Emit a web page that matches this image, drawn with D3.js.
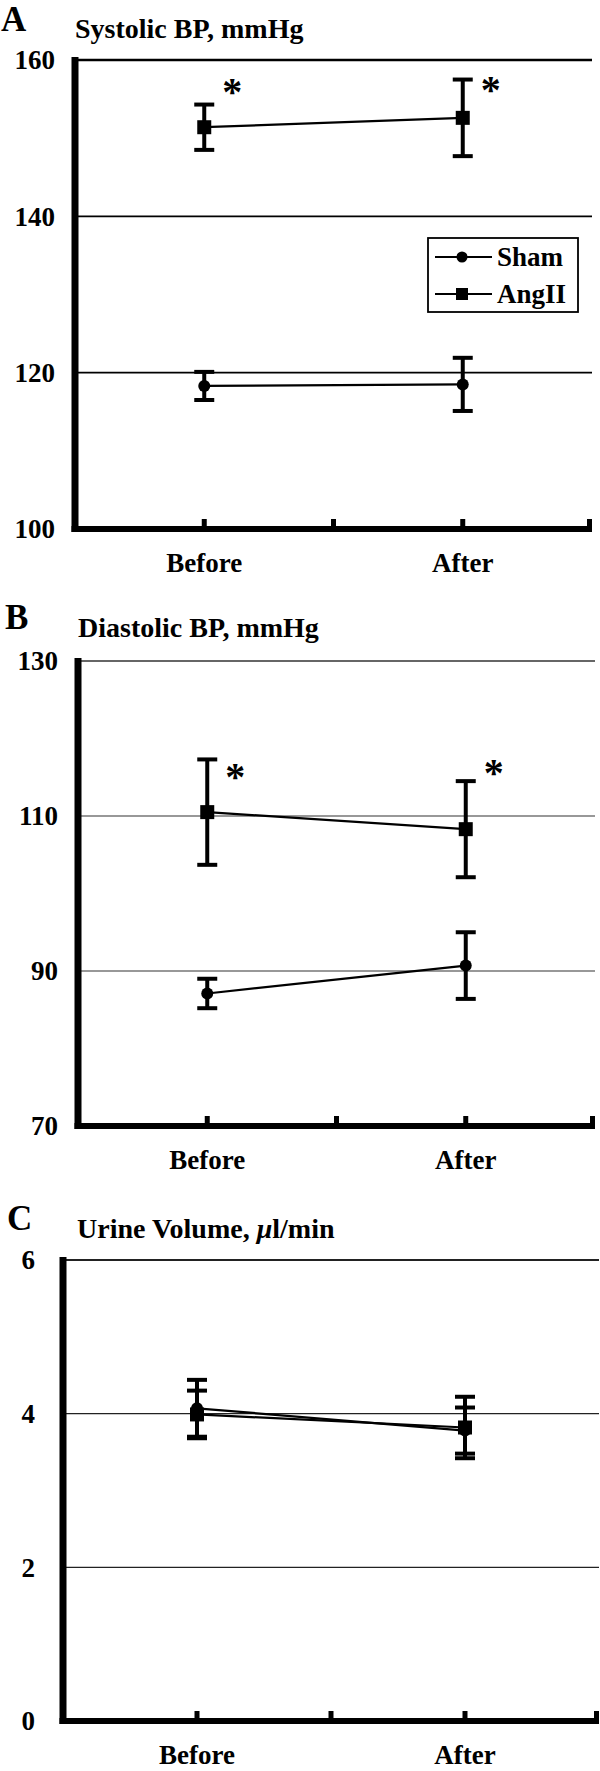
<!DOCTYPE html>
<html><head><meta charset="utf-8">
<script src="https://cdn.jsdelivr.net/npm/d3@7"></script>
<style>
html,body{margin:0;padding:0;background:#fff;}
svg{display:block;}
text{font-family:"Liberation Serif","Times New Roman",serif;font-weight:bold;fill:#000;}
</style></head>
<body>
<svg id="chart" width="600" height="1771"></svg>
<script>
// ---------- data ----------
const categories = ["Before", "After"];
const seriesNames = ["Sham", "AngII"];

// Panel A: systolic BP, mmHg
const sbpTicks = [100, 120, 140, 160];
const sbpSham = [118.3, 118.5];
const sbpShamErr = [1.8, 3.4];
const sbpAng = [151.4, 152.6];
const sbpAngErr = [2.9, 4.9];
const sbpStars = [156.8, 157.1];

// Panel B: diastolic BP, mmHg
const dbpTicks = [70, 90, 110, 130];
const dbpSham = [87.1, 90.7];
const dbpShamErr = [1.9, 4.3];
const dbpAng = [110.5, 108.3];
const dbpAngErr = [6.8, 6.2];
const dbpStars = [115.9, 116.4];

// Panel C: urine volume, µl/min
const uvTicks = [0, 2, 4, 6];
const uvSham = [4.07, 3.78];
const uvShamErr = [0.37, 0.30];
const uvAng = [3.99, 3.82];
const uvAngErr = [0.31, 0.40];

// ---------- drawing ----------
const svg = d3.select("#chart");

function panel(cfg) {
  const g = svg.append("g");
  const x = d3.scaleLinear().domain([0, 4]).range(cfg.xr);
  const y = d3.scaleLinear().domain(d3.extent(cfg.ticks)).range(cfg.yr);
  const catX = i => x(1 + 2 * i);

  // panel letter and title
  g.append("text").attr("x", cfg.letterPos[0]).attr("y", cfg.letterPos[1])
    .style("font-size", "35px").text(cfg.letter);
  g.append("text").attr("x", cfg.titlePos[0]).attr("y", cfg.titlePos[1])
    .style("font-size", "28px").html(cfg.title);

  // gridlines
  const top = d3.max(cfg.ticks);
  g.selectAll(".grid").data(cfg.ticks.filter(t => t !== d3.min(cfg.ticks)))
    .join("line")
    .attr("x1", x(0)).attr("x2", x(4))
    .attr("y1", d => y(d)).attr("y2", d => y(d))
    .attr("stroke", cfg.gridColor)
    .attr("stroke-width", d => d === top ? cfg.gridW + 0.5 : cfg.gridW);

  // y axis (thick)
  g.append("line").attr("x1", x(0)).attr("x2", x(0))
    .attr("y1", y(top) - 3).attr("y2", y(d3.min(cfg.ticks)) + 3)
    .attr("stroke", "#000").attr("stroke-width", 7);
  // x axis (thick)
  g.append("line").attr("x1", x(0) - 3.5).attr("x2", x(4))
    .attr("y1", y(d3.min(cfg.ticks))).attr("y2", y(d3.min(cfg.ticks)))
    .attr("stroke", "#000").attr("stroke-width", 6);
  // x axis tick marks pointing up
  g.selectAll(".xt").data([1, 2, 3, 4]).join("line")
    .attr("x1", d => x(d) - (d === 4 ? 2.5 : 0)).attr("x2", d => x(d) - (d === 4 ? 2.5 : 0))
    .attr("y1", y(d3.min(cfg.ticks))).attr("y2", y(d3.min(cfg.ticks)) - 10)
    .attr("stroke", "#000").attr("stroke-width", 5);

  // y tick labels
  g.selectAll(".yl").data(cfg.ticks).join("text")
    .attr("x", cfg.labelX).attr("y", d => y(d))
    .attr("dy", "0.35em").attr("text-anchor", "end")
    .style("font-size", "27px").text(d => d);

  // category labels
  g.selectAll(".cl").data(categories).join("text")
    .attr("x", (d, i) => catX(i)).attr("y", y(d3.min(cfg.ticks)) + 43)
    .attr("text-anchor", "middle").style("font-size", "27px").text(d => d);

  // series
  cfg.series.forEach(s => {
    const pts = s.values.map((v, i) => ({ x: catX(i), v, e: s.err[i] }));
    g.append("path").datum(pts)
      .attr("d", d3.line().x(d => d.x).y(d => y(d.v)))
      .attr("fill", "none").attr("stroke", "#000").attr("stroke-width", 2.2);
    const eb = g.append("g").selectAll("g").data(pts).join("g");
    eb.append("line").attr("x1", d => d.x).attr("x2", d => d.x)
      .attr("y1", d => y(d.v + d.e)).attr("y2", d => y(d.v - d.e))
      .attr("stroke", "#000").attr("stroke-width", 4);
    [1, -1].forEach(sg => {
      eb.append("line").attr("x1", d => d.x - 10).attr("x2", d => d.x + 10)
        .attr("y1", d => y(d.v + sg * d.e)).attr("y2", d => y(d.v + sg * d.e))
        .attr("stroke", "#000").attr("stroke-width", 4);
    });
    if (s.name === "Sham") {
      eb.append("circle").attr("cx", d => d.x).attr("cy", d => y(d.v)).attr("r", 6).attr("fill", "#000");
    } else {
      eb.append("rect").attr("x", d => d.x - 7).attr("y", d => y(d.v) - 7)
        .attr("width", 14).attr("height", 14).attr("fill", "#000");
    }
  });

  // significance asterisks
  if (cfg.stars) {
    g.selectAll(".st").data(cfg.stars).join("text")
      .attr("x", (d, i) => catX(i) + 28).attr("y", d => y(d))
      .attr("dy", "0.5em").attr("text-anchor", "middle")
      .style("font-size", "40px").text("*");
  }
  return { g, x, y };
}

const A = panel({
  letter: "A", letterPos: [1, 31], title: "Systolic BP, mmHg", titlePos: [75, 38],
  ticks: sbpTicks, xr: [75, 592], yr: [529, 60], labelX: 55,
  gridColor: "#000", gridW: 1.8,
  series: [{ name: "Sham", values: sbpSham, err: sbpShamErr },
           { name: "AngII", values: sbpAng, err: sbpAngErr }],
  stars: sbpStars
});

// legend (panel A)
const leg = A.g.append("g");
leg.append("rect").attr("x", 428).attr("y", 238).attr("width", 150).attr("height", 74)
  .attr("fill", "#fff").attr("stroke", "#000").attr("stroke-width", 1.8);
seriesNames.forEach((nm, i) => {
  const yy = 257 + i * 37;
  leg.append("line").attr("x1", 435).attr("x2", 492).attr("y1", yy).attr("y2", yy)
    .attr("stroke", "#000").attr("stroke-width", 2);
  if (nm === "Sham") leg.append("circle").attr("cx", 462).attr("cy", yy).attr("r", 5.5).attr("fill", "#000");
  else leg.append("rect").attr("x", 456).attr("y", yy - 6).attr("width", 12).attr("height", 12).attr("fill", "#000");
  leg.append("text").attr("x", 497).attr("y", yy).attr("dy", "0.33em")
    .style("font-size", "27px").text(nm);
});

panel({
  letter: "B", letterPos: [5, 629], title: "Diastolic BP, mmHg", titlePos: [78, 637],
  ticks: dbpTicks, xr: [78, 595], yr: [1126, 661], labelX: 58,
  gridColor: "#333", gridW: 1.2,
  series: [{ name: "Sham", values: dbpSham, err: dbpShamErr },
           { name: "AngII", values: dbpAng, err: dbpAngErr }],
  stars: dbpStars
});

panel({
  letter: "C", letterPos: [7, 1230], title: "Urine Volume, <tspan font-style='italic'>μ</tspan>l/min", titlePos: [77, 1238],
  ticks: uvTicks, xr: [63, 599], yr: [1721, 1260], labelX: 35,
  gridColor: "#222", gridW: 1.3,
  series: [{ name: "Sham", values: uvSham, err: uvShamErr },
           { name: "AngII", values: uvAng, err: uvAngErr }]
});
</script>
</body></html>
